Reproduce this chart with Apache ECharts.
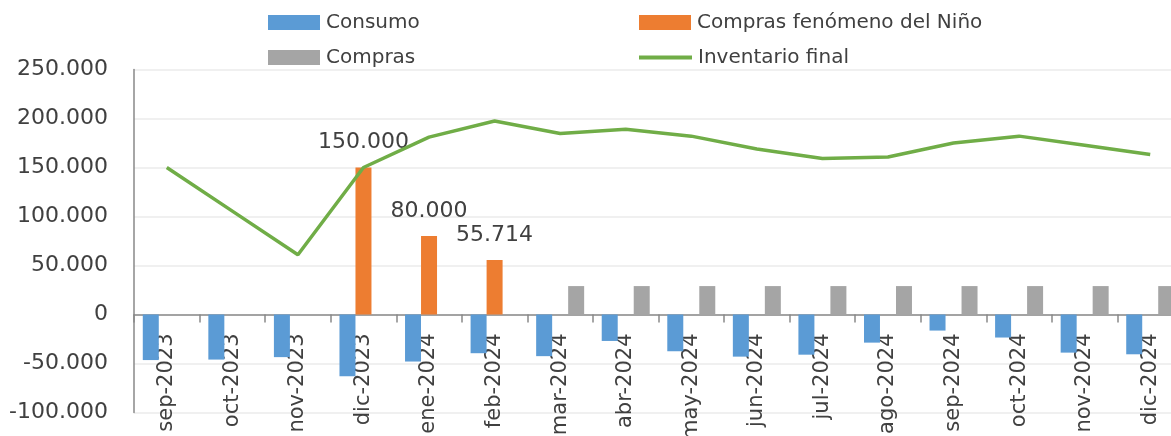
<!DOCTYPE html>
<html>
<head>
<meta charset="utf-8">
<script src="https://cdn.jsdelivr.net/npm/echarts@6/dist/echarts.min.js"></script>
<style>
html,body{margin:0;padding:0;background:#fff;}
#chart{width:1171px;height:436px;}
</style>
</head>
<body>
<div id="chart"></div>
<script>
var categories = ['sep-2023','oct-2023','nov-2023','dic-2023','ene-2024','feb-2024','mar-2024','abr-2024','may-2024','jun-2024','jul-2024','ago-2024','sep-2024','oct-2024','nov-2024','dic-2024'];
var consumo = [-46500,-46000,-43500,-63000,-48000,-39500,-42500,-27000,-37500,-43000,-41000,-28700,-16400,-23500,-38900,-40600];
var comprasNino = [null,null,null,150000,80000,55714,null,null,null,null,null,null,null,null,null,null];
var compras = [null,null,null,null,null,null,29000,29000,29000,29000,29000,29000,29000,29000,29000,29000];
var inventarioFinal = [150000,105500,61000,150000,181000,197500,184600,189000,182000,168800,159100,160700,175000,182000,172700,163200];
var yTicks = {min:-100000, max:250000, interval:50000};

function fmt(v){
  var s = Math.abs(Math.round(v)).toString().replace(/\B(?=(\d{3})+(?!\d))/g,'.');
  return (v < 0 ? '-' : '') + s;
}

var FONT = 'DejaVu Sans';
var TXT = '#404040';
var GRID_H = 343;
// place the category axis on the zero line of the value axis
var zeroOffset = -GRID_H * (0 - yTicks.min) / (yTicks.max - yTicks.min);

var chart = echarts.init(document.getElementById('chart'), null, {renderer:'canvas'});

function legendAt(name, left, top, extra){
  var o = {
    data:[name], left:left, top:top, padding:0, orient:'horizontal',
    icon:'rect', itemWidth:52, itemHeight:15, itemGap:0,
    textStyle:{fontFamily:FONT, fontSize:20, color:TXT, padding:[0,0,0,1]},
    selectedMode:false
  };
  for (var k in extra) o[k] = extra[k];
  return o;
}

chart.setOption({
  animation:false,
  backgroundColor:'#ffffff',
  legend:[
    legendAt('Consumo', 268, 12.5, {}),
    legendAt('Compras fenómeno del Niño', 639, 12.5, {}),
    legendAt('Compras', 268, 47.5, {}),
    legendAt('Inventario final', 639, 47.5, {itemHeight:4, itemWidth:53})
  ],
  grid:{left:134, top:69.5, width:1049, height:GRID_H, containLabel:false, outerBoundsMode:'none'},
  xAxis:{
    type:'category', data:categories, boundaryGap:true, position:'bottom', offset:zeroOffset,
    axisLine:{onZero:false, lineStyle:{color:'#898989', width:1.5}},
    axisTick:{show:true, length:8, lineStyle:{color:'#898989', width:1.5}},
    axisLabel:{rotate:90, margin:19, fontFamily:FONT, fontSize:21, color:TXT, interval:0, hideOverlap:false},
    splitLine:{show:false}
  },
  yAxis:{
    type:'value', min:yTicks.min, max:yTicks.max, interval:yTicks.interval,
    axisLine:{show:true, onZero:false, lineStyle:{color:'#898989', width:1.5}},
    axisTick:{show:false},
    axisLabel:{margin:26, fontFamily:FONT, fontSize:22, color:TXT, formatter:fmt},
    splitLine:{show:true, lineStyle:{color:'#ebebeb', width:1.5}}
  },
  series:[
    {name:'Consumo', type:'bar', data:consumo, barWidth:16, barGap:'0%', itemStyle:{color:'#5B9BD5'}},
    {name:'Compras fenómeno del Niño', type:'bar', data:comprasNino, barWidth:16, barGap:'0%', itemStyle:{color:'#ED7D31'},
      label:{show:true, position:'top', distance:14, fontFamily:FONT, fontSize:22, color:TXT,
        formatter:function(p){return fmt(p.value);}}},
    {name:'Compras', type:'bar', data:compras, barWidth:16, barGap:'0%', itemStyle:{color:'#A5A5A5'}},
    {name:'Inventario final', type:'line', data:inventarioFinal, showSymbol:false, symbol:'none', z:5,
      itemStyle:{color:'#70AD47'}, lineStyle:{color:'#70AD47', width:3.5}}
  ]
});
</script>
</body>
</html>
